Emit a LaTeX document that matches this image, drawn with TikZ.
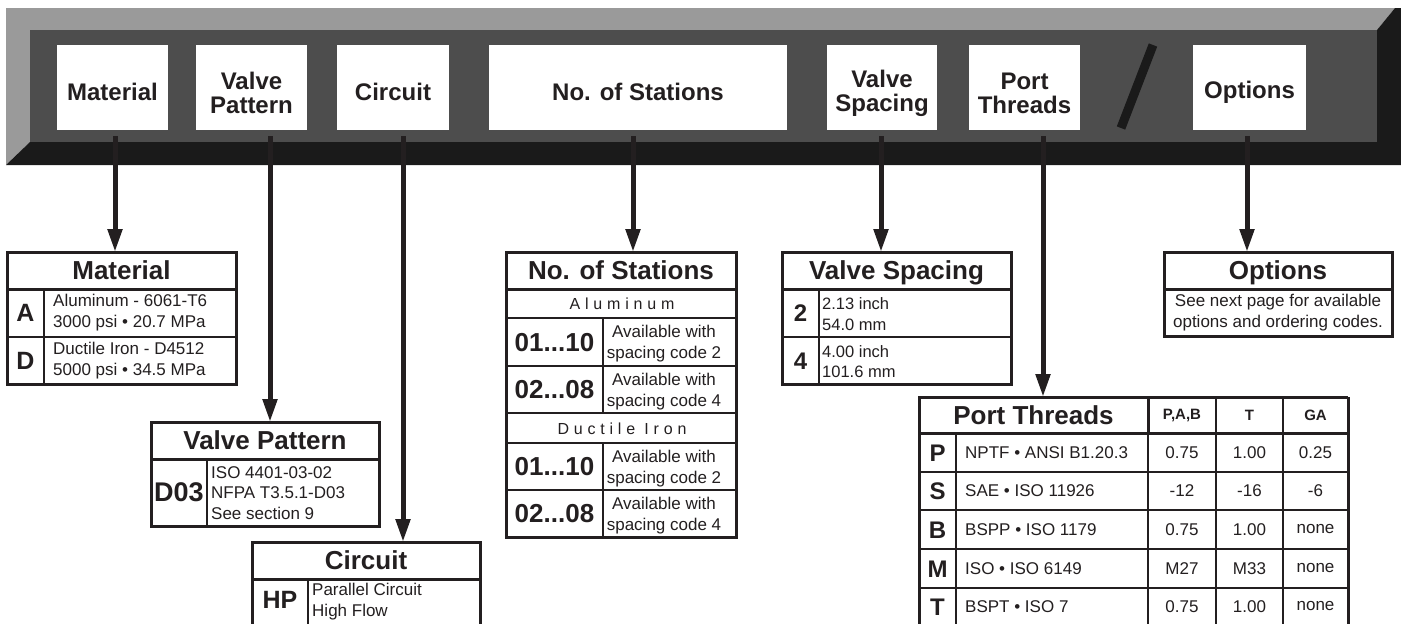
\documentclass[tikz,border=0pt]{standalone}
\usepackage{fontspec}
\setmainfont{Liberation Sans}
\usetikzlibrary{arrows.meta}
\definecolor{ink}{HTML}{231F20}
\definecolor{panellight}{HTML}{9A9A9A}
\definecolor{panelface}{HTML}{4D4D4D}
\definecolor{paneldark}{HTML}{1A1A1A}
\tikzset{
  pbox/.style={fill=white, inner sep=0pt, outer sep=0pt, anchor=north west},
  plabel/.style={font=\fontsize{24}{24}\selectfont\bfseries, align=center, text=ink, inner sep=0pt},
  arr/.style={line width=5pt, draw=ink, -{Triangle[width=14pt,length=23pt]}, shorten <=6pt},
  hdr/.style={draw=ink, line width=3pt, inner sep=0pt, outer sep=0pt, anchor=north west,
    font=\fontsize{26}{26}\selectfont\bfseries, text=ink, text height=18.6pt, text depth=0pt},
  outer/.style={draw=ink, line width=3pt},
  inner/.style={draw=ink, line width=1.8pt},
  keyt/.style={font=\fontsize{25}{25}\selectfont\bfseries, text=ink, inner sep=0pt, text height=17.9pt, text depth=0pt},
  bodyl/.style={font=\fontsize{17}{21}\selectfont, align=left, anchor=west, inner sep=0pt, text=ink},
  bodyc/.style={font=\fontsize{17}{21}\selectfont, align=center, inner sep=0pt, text=ink},
  spaced/.style={font=\fontsize{16}{16}\selectfont\addfontfeature{LetterSpace=30}, inner sep=0pt, text=ink},
  colh/.style={font=\fontsize{15}{15}\selectfont\bfseries, inner sep=0pt, text=ink},
  cellt/.style={font=\fontsize{17}{17}\selectfont, inner sep=0pt, text=ink},
}
\begin{document}
\begin{tikzpicture}[x=1pt, y=-1pt]
\useasboundingbox (0,0) rectangle (1401,624);
\fill[white] (0,0) rectangle (1401,624);
% ---------- panel ----------
\fill[panellight] (6,8) -- (1395,8) -- (1377,30) -- (30,30) -- (30,142) -- (6,165) -- cycle;
\fill[panelface] (30,30) rectangle (1377,142);
\fill[paneldark] (6,165) -- (30,142) -- (1377,142) -- (1377,30) -- (1395,8) -- (1401,8) -- (1401,165) -- cycle;
% panel boxes
\node[pbox, minimum width=111pt, minimum height=85pt] (pm)  at (57,45) {};
\node[pbox, minimum width=111pt, minimum height=85pt] (pvp) at (196,45) {};
\node[pbox, minimum width=112pt, minimum height=85pt] (pc)  at (337,45) {};
\node[pbox, minimum width=298pt, minimum height=85pt] (pns) at (489,45) {};
\node[pbox, minimum width=110pt, minimum height=85pt] (pvs) at (827,45) {};
\node[pbox, minimum width=111pt, minimum height=85pt] (ppt) at (969,45) {};
\node[pbox, minimum width=113pt, minimum height=85pt] (po)  at (1193,45) {};
\node[plabel] (pmt)  at (112.5,92) {Material};
\node[plabel] (pvpt) at (251.5,93) {Valve\\Pattern};
\node[plabel] (pct)  at (393,92) {Circuit};
\node[plabel] (pnst) at (638,92) {No. of Stations};
\node[plabel] (pvst) at (882,93) {Valve\\Spacing};
\node[plabel] (pptt) at (1024.5,93) {Port\\Threads};
\node[plabel] (pot)  at (1249.5,92) {Options};
\coordinate (sl1) at (1153,45);
\coordinate (sl2) at (1121,128);
\draw[paneldark, line width=9pt] (sl1) -- (sl2);

% ---------- Material table ----------
\node[hdr, minimum width=229pt, minimum height=37pt] (tmat) at (7,252) {Material};
\draw[inner] (44,289) -- (44,384) (7,337) -- (236,337);
\draw[outer] (7,289) rectangle (236,384);
\node[keyt] (matA) at (25.5,313) {A};
\node[bodyl] (matAt) at (53,313) {Aluminum - 6061-T6\\3000 psi • 20.7 MPa};
\node[keyt] (matD) at (25.5,361) {D};
\node[bodyl] (matDt) at (53,361) {Ductile Iron - D4512\\5000 psi • 34.5 MPa};

% ---------- Valve Pattern table ----------
\node[hdr, minimum width=228pt, minimum height=37pt] (tvp) at (151,422) {Valve Pattern};
\draw[inner] (207,459) -- (207,526);
\draw[outer] (151,459) rectangle (379,526);
\node[keyt, font=\fontsize{27}{27}\selectfont\bfseries, text height=19.3pt] (vpk) at (179,492) {D03};
\node[bodyl, font=\fontsize{17}{20.5}\selectfont] (vpt) at (211,493) {ISO 4401-03-02\\NFPA T3.5.1-D03\\See section 9};

% ---------- Circuit table ----------
\node[hdr, minimum width=228pt, minimum height=37pt] (tcir) at (252,542) {Circuit};
\draw[inner] (308,579) -- (308,640);
\draw[outer] (252,579) -- (252,640) (480,579) -- (480,640) (252,579) -- (480,579);
\node[keyt] (cirk) at (280,600) {HP};
\node[bodyl] (cirt) at (312,602) {Parallel Circuit\\High Flow};

% ---------- No. of Stations table ----------
\node[hdr, minimum width=230pt, minimum height=37pt] (tns) at (506,252) {No. of Stations};
\draw[inner] (506,318) -- (736,318) (506,366) -- (736,366) (506,413) -- (736,413)
             (506,443) -- (736,443) (506,490) -- (736,490)
             (603,318) -- (603,413) (603,443) -- (603,537);
\draw[outer] (506,289) rectangle (736,537);
\node[spaced] (nsal) at (622,304) {Aluminum};
\node[spaced] (nsdi) at (622,428.5) {Ductile Iron};
\node[keyt, font=\fontsize{26}{26}\selectfont\bfseries, text height=18.6pt] (ns1k) at (554.5,342) {01...10};
\node[bodyc] (ns1t) at (664,344) {Available with\\spacing code 2};
\node[keyt, font=\fontsize{26}{26}\selectfont\bfseries, text height=18.6pt] (ns2k) at (554.5,389.5) {02...08};
\node[bodyc] (ns2t) at (664,391.5) {Available with\\spacing code 4};
\node[keyt, font=\fontsize{26}{26}\selectfont\bfseries, text height=18.6pt] (ns3k) at (554.5,466.5) {01...10};
\node[bodyc] (ns3t) at (664,468.5) {Available with\\spacing code 2};
\node[keyt, font=\fontsize{26}{26}\selectfont\bfseries, text height=18.6pt] (ns4k) at (554.5,513.5) {02...08};
\node[bodyc] (ns4t) at (664,515.5) {Available with\\spacing code 4};

% ---------- Valve Spacing table ----------
\node[hdr, minimum width=229pt, minimum height=37pt] (tvs) at (782,252) {Valve Spacing};
\draw[inner] (819,289) -- (819,384) (782,337) -- (1011,337);
\draw[outer] (782,289) rectangle (1011,384);
\node[keyt, font=\fontsize{24}{24}\selectfont\bfseries, text height=17.2pt] (vs2) at (800.5,313) {2};
\node[bodyl, font=\fontsize{16.5}{20.5}\selectfont] (vs2t) at (822,314) {2.13 inch\\54.0 mm};
\node[keyt, font=\fontsize{24}{24}\selectfont\bfseries, text height=17.2pt] (vs4) at (800.5,360.5) {4};
\node[bodyl, font=\fontsize{16.5}{20.5}\selectfont] (vs4t) at (822,361.5) {4.00 inch\\101.6 mm};

% ---------- Options table ----------
\node[hdr, minimum width=228pt, minimum height=37pt] (topt) at (1164,252) {Options};
\draw[outer] (1164,289) rectangle (1392,336);
\node[bodyc] (optt) at (1278,313) {See next page for available\\options and ordering codes.};

% ---------- Port Threads table ----------
\node[hdr, minimum width=229pt, minimum height=36pt] (tpt) at (919,397) {Port Threads};
\draw[inner] (1148,397) -- (1148,640) (1216,397) -- (1216,640) (1283,397) -- (1283,640)
             (956,433) -- (956,640)
             (919,472) -- (1348,472) (919,510) -- (1348,510) (919,549) -- (1348,549) (919,588) -- (1348,588);
\draw[outer] (919,433) -- (1348,433);
\draw[outer] (919,397) -- (1348,397) (919,397) -- (919,640) (1348,397) -- (1348,640);
\node[colh] (ptc1) at (1182,415) {P,A,B};
\node[colh] (ptc2) at (1249.5,415) {T};
\node[colh] (ptc3) at (1315.5,415) {GA};
% rows
\node[keyt, font=\fontsize{24}{24}\selectfont\bfseries, text height=17.2pt] (ptPk) at (937.5,452.5) {P};
\node[cellt, anchor=west] (ptPd) at (965,452.5) {NPTF • ANSI B1.20.3};
\node[cellt] (ptP1) at (1182,452.5) {0.75};
\node[cellt] (ptP2) at (1249.5,452.5) {1.00};
\node[cellt] (ptP3) at (1315.5,452.5) {0.25};
\node[keyt, font=\fontsize{24}{24}\selectfont\bfseries, text height=17.2pt] (ptSk) at (937.5,491) {S};
\node[cellt, anchor=west] (ptSd) at (965,491) {SAE • ISO 11926};
\node[cellt] (ptS1) at (1182,491) {-12};
\node[cellt] (ptS2) at (1249.5,491) {-16};
\node[cellt] (ptS3) at (1315.5,491) {-6};
\node[keyt, font=\fontsize{24}{24}\selectfont\bfseries, text height=17.2pt] (ptBk) at (937.5,529.5) {B};
\node[cellt, anchor=west] (ptBd) at (965,529.5) {BSPP • ISO 1179};
\node[cellt] (ptB1) at (1182,529.5) {0.75};
\node[cellt] (ptB2) at (1249.5,529.5) {1.00};
\node[cellt] (ptB3) at (1315.5,529.5) {none};
\node[keyt, font=\fontsize{24}{24}\selectfont\bfseries, text height=17.2pt] (ptMk) at (937.5,568.5) {M};
\node[cellt, anchor=west] (ptMd) at (965,568.5) {ISO • ISO 6149};
\node[cellt] (ptM1) at (1182,568.5) {M27};
\node[cellt] (ptM2) at (1249.5,568.5) {M33};
\node[cellt] (ptM3) at (1315.5,568.5) {none};
\node[keyt, font=\fontsize{24}{24}\selectfont\bfseries, text height=17.2pt] (ptTk) at (937.5,606.5) {T};
\node[cellt, anchor=west] (ptTd) at (965,606.5) {BSPT • ISO 7};
\node[cellt] (ptT1) at (1182,606.5) {0.75};
\node[cellt] (ptT2) at (1249.5,606.5) {1.00};
\node[cellt] (ptT3) at (1315.5,606.5) {none};

% ---------- arrows ----------
\coordinate (xm) at (115,0);
\coordinate (xvp) at (270,0);
\coordinate (xc) at (403,0);
\coordinate (xns) at (633,0);
\coordinate (xvs) at (881,0);
\coordinate (xpt) at (1043,0);
\coordinate (xo) at (1247,0);
\draw[arr] (xm |- pm.south) -- (xm |- tmat.north);
\draw[arr] (xvp |- pvp.south) -- (xvp |- tvp.north);
\draw[arr] (xc |- pc.south) -- (xc |- tcir.north);
\draw[arr] (xns |- pns.south) -- (xns |- tns.north);
\draw[arr] (xvs |- pvs.south) -- (xvs |- tvs.north);
\draw[arr] (xpt |- ppt.south) -- (xpt |- tpt.north);
\draw[arr] (xo |- po.south) -- (xo |- topt.north);
\end{tikzpicture}
\end{document}
